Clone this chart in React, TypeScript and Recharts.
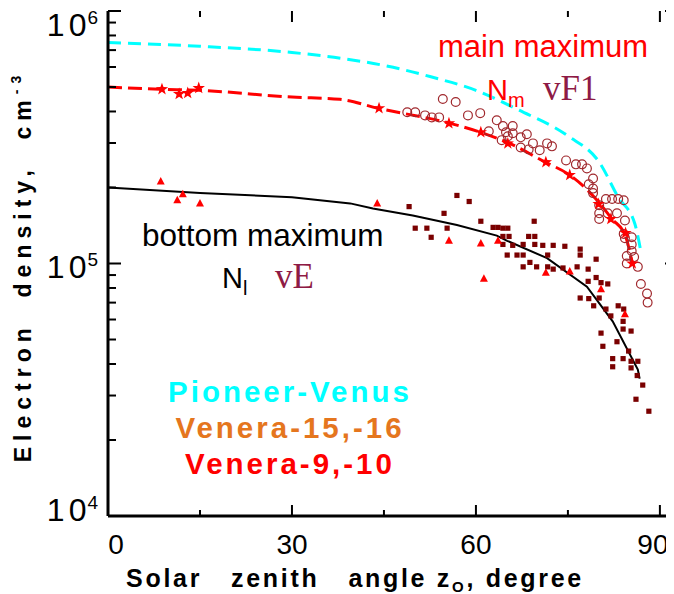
import React from 'react';
import { ComposedChart, Line, Scatter, XAxis, YAxis } from 'recharts';

// ---------- data (solar zenith angle in degrees, electron density in cm^-3) ----------
const xTicks = [0, 15, 30, 45, 60, 75, 90];
const xLabelTicks = [0, 30, 60, 90];
const yTicks = [
  1e4, 2e4, 3e4, 4e4, 5e4, 6e4, 7e4, 8e4, 9e4,
  1e5, 2e5, 3e5, 4e5, 5e5, 6e5, 7e5, 8e5, 9e5, 1e6,
];
const yLabelTicks = [1e4, 1e5, 1e6];
const yLabelExp = ['4', '5', '6'];

const pioneerCurve: [number, number][] = [
  [0, 7.5e5], [15, 7.25e5], [30, 6.85e5], [38, 6.5e5], [47.6, 5.9e5], [52.5, 5.5e5],
  [60, 4.85e5], [67, 4.05e5], [75, 3.2e5], [80.2, 2.5e5], [83.2, 1.83e5], [85.9, 1.44e5],
  [87, 1.08e5],
];

const mainCurve: [number, number][] = [
  [0, 5.0e5], [8.5, 4.9e5], [15, 4.85e5], [30, 4.56e5], [37.8, 4.47e5], [44, 4.12e5],
  [55.8, 3.59e5], [60.7, 3.31e5], [65.5, 2.99e5], [71.3, 2.52e5], [75.3, 2.24e5],
  [80.2, 1.73e5], [82.2, 1.5e5], [84.3, 1.3e5], [85.5, 1.0e5],
];

const bottomCurve: [number, number][] = [
  [0, 2.0e5], [15, 1.9e5], [30, 1.83e5], [39.5, 1.73e5], [43.2, 1.65e5], [49.7, 1.55e5],
  [56.9, 1.42e5], [63.4, 1.29e5], [65.1, 1.23e5], [71.6, 1.05e5], [78.1, 8.1e4],
  [82.3, 5.9e4], [86.4, 3.8e4], [86.7, 3.5e4],
];

const starPoints: [number, number][] = [
  [8.8, 4.9e5], [11.6, 4.69e5], [13, 4.73e5], [14.8, 4.95e5], [44.2, 4.12e5], [55.6, 3.59e5],
  [60.8, 3.31e5], [65.2, 2.99e5], [71.4, 2.52e5], [75.3, 2.24e5], [80.0, 1.72e5],
  [82.0, 1.5e5], [84.4, 1.32e5], [85.5, 1.0e5],
];

const trianglePoints: [number, number][] = [
  [8.6, 2.11e5], [11.3, 1.78e5], [12.2, 1.88e5], [15, 1.73e5], [43.9, 1.73e5], [55.6, 1.23e5],
  [60.8, 1.2e5], [61.3, 8.7e4], [63.6, 1.23e5], [71.4, 9.2e4], [75.3, 9.3e4], [80.4, 7.9e4],
  [84.3, 6.3e4],
];

const circlePoints: [number, number][] = [
  [54.6, 4.48e5], [56.7, 4.36e5], [48.8, 3.97e5], [50.1, 3.97e5], [51.7, 3.86e5], [52.8, 3.79e5],
  [54.0, 3.79e5], [58.7, 3.86e5], [60.7, 3.94e5], [62.1, 3.34e5], [63.4, 3.69e5], [64.4, 3.5e5],
  [66.0, 3.5e5], [64.9, 3.31e5], [64.2, 3.08e5], [65.2, 3.19e5], [66.0, 3.28e5], [67.3, 3.16e5],
  [68.3, 3.25e5], [67.3, 2.88e5], [68.6, 2.83e5], [70.4, 2.81e5], [71.6, 2.99e5], [72.4, 2.91e5],
  [69.3, 2.99e5], [74.7, 2.56e5], [76.3, 2.47e5], [77.3, 2.47e5], [78.1, 2.38e5], [79.1, 2.17e5],
  [78.4, 2.06e5], [79.1, 1.98e5], [79.1, 1.9e5], [81.2, 1.8e5], [82.2, 1.8e5], [83.2, 1.8e5],
  [84.1, 1.78e5], [80.1, 1.7e5], [80.1, 1.58e5], [80.1, 1.5e5], [81.5, 1.58e5], [83.0, 1.58e5],
  [84.3, 1.48e5], [84.1, 1.31e5], [85.4, 1.27e5], [84.3, 1.26e5], [85.4, 1.19e5], [85.4, 1.12e5],
  [84.6, 1.07e5], [85.8, 1.06e5], [84.6, 1.0e5], [86.4, 9.7e4], [86.9, 8.3e4], [87.9, 7.6e4],
  [88.0, 7.0e4],
];

const squarePoints: [number, number][] = [
  [56.9, 1.86e5], [58.9, 1.76e5], [49.1, 1.68e5], [54.8, 1.58e5], [50.1, 1.38e5], [52.0, 1.38e5],
  [55.3, 1.38e5], [52.7, 1.27e5], [60.8, 1.47e5], [62.8, 1.39e5], [63.6, 1.39e5], [64.4, 1.38e5],
  [65.2, 1.38e5], [69.5, 1.47e5], [64.4, 1.28e5], [65.4, 1.28e5], [68.6, 1.28e5], [69.6, 1.28e5],
  [64.4, 1.19e5], [66.0, 1.18e5], [67.7, 1.19e5], [69.6, 1.19e5], [70.9, 1.18e5], [72.6, 1.18e5],
  [74.5, 1.17e5], [65.1, 1.08e5], [66.7, 1.08e5], [67.7, 1.08e5], [71.7, 1.08e5], [77.0, 1.14e5],
  [77.0, 1.08e5], [68.8, 1.01e5], [67.7, 9.7e4], [69.9, 9.7e4], [71.7, 9.7e4], [72.6, 9.5e4],
  [74.2, 9.6e4], [76.5, 9.7e4], [79.6, 1.04e5], [78.3, 9.5e4], [78.3, 8.5e4], [79.6, 8.8e4],
  [80.4, 8.4e4], [81.5, 8.3e4], [77.0, 7.3e4], [78.4, 7.26e4], [80.1, 7.3e4], [79.2, 6.8e4],
  [81.2, 6.6e4], [83.2, 6.8e4], [84.1, 6.6e4], [82.0, 6.2e4], [84.0, 5.9e4], [85.3, 5.4e4],
  [84.0, 5.5e4], [80.4, 5.3e4], [80.7, 4.7e4], [83.0, 4.9e4], [84.9, 4.5e4], [82.3, 4.2e4],
  [84.0, 4.2e4], [82.3, 3.9e4], [85.3, 4.1e4], [86.4, 4.1e4], [85.3, 3.86e4], [86.3, 3.6e4],
  [87.2, 3.3e4], [86.1, 2.9e4], [88.2, 2.6e4],
];

const toRows = (pts: [number, number][]) => pts.map(([deg, n]) => ({ deg, n }));

// ---------- styles ----------
const SANS = 'Liberation Sans, Arial, Helvetica, sans-serif';
const SERIF = 'Liberation Serif, Times New Roman, serif';
const CYAN = '#00FFFF';
const RED = '#FF0000';
const MAROON = '#7A0000';
const CIRCLE = '#A0282D';
const WINE = '#8E1A45';
const ORANGE = '#E5761E';

const W = 666;
const H = 586;
const M_TOP = 3;
const AX_LEFT = 100;
const AX_BOTTOM = 78;
const PLOT_W = W - AX_LEFT;
const PLOT_H = H - M_TOP - AX_BOTTOM;

const BottomTick = (p: any) => {
  const { x, y, payload } = p;
  const v = payload.value;
  const major = xLabelTicks.includes(v);
  const len = major ? 11 : 6;
  const dx = v === 0 ? 8 : v === 90 ? -7 : 0;
  const top = y - PLOT_H;
  return (
    <g>
      <line x1={x} x2={x} y1={y} y2={y - len} stroke="#000" strokeWidth={2} />
      <line x1={x} x2={x} y1={top} y2={top + len} stroke="#000" strokeWidth={2} />
      {major && (
        <text x={x + dx} y={y + 38} textAnchor="middle" fontFamily={SANS} fontSize={28} fill="#000">
          {v}
        </text>
      )}
    </g>
  );
};

const LeftTick = (p: any) => {
  const { x, y, payload } = p;
  const idx = yLabelTicks.indexOf(payload.value);
  const major = idx >= 0;
  const off = idx === 0 ? 5 : idx === 1 ? 14 : 25;
  const right = x + PLOT_W;
  return (
    <g>
      <line x1={x} x2={x + (major ? 13 : 8)} y1={y} y2={y} stroke="#000" strokeWidth={2} />
      <line x1={right} x2={right - (major ? 9 : 3)} y1={y} y2={y} stroke="#000" strokeWidth={2} />
      {major && (
        <text x={x - 10} y={y + off} textAnchor="end" fontFamily={SANS} fontSize={32} fill="#000">
          <tspan>1</tspan>
          <tspan dx={4}>0</tspan>
          <tspan dx={1} dy={-12} fontSize={19}>{yLabelExp[idx]}</tspan>
        </text>
      )}
    </g>
  );
};

const starPath = (cx: number, cy: number, ro: number, ri: number) => {
  const pts: string[] = [];
  for (let i = 0; i < 10; i++) {
    const r = i % 2 === 0 ? ro : ri;
    const a = -Math.PI / 2 + (i * Math.PI) / 5;
    pts.push(`${cx + r * Math.cos(a)},${cy + r * Math.sin(a)}`);
  }
  return `M${pts.join('L')}Z`;
};

const StarShape = (p: any) => <path d={starPath(p.cx, p.cy, 6.5, 2.6)} fill={RED} />;
const TriShape = (p: any) => (
  <path d={`M${p.cx},${p.cy - 4.5}L${p.cx + 4},${p.cy + 3}L${p.cx - 4},${p.cy + 3}Z`} fill={RED} />
);
const CircleShape = (p: any) => (
  <circle cx={p.cx} cy={p.cy} r={4.4} fill="none" stroke={CIRCLE} strokeWidth={1.2} />
);
const SquareShape = (p: any) => (
  <rect x={p.cx - 2.6} y={p.cy - 2.6} width={5.2} height={5.2} fill={MAROON} />
);

export default function App() {
  return (
    <div style={{ position: 'relative', width: W, height: H }}>
      <ComposedChart width={W} height={H} margin={{ top: M_TOP, right: 0, bottom: 0, left: 0 }}>
        <XAxis
          xAxisId="b"
          type="number"
          dataKey="deg"
          domain={[0, 92.3]}
          allowDataOverflow
          ticks={xTicks}
          interval={0}
          height={AX_BOTTOM}
          tickSize={0}
          tickMargin={0}
          tickLine={false}
          axisLine={{ stroke: '#000', strokeWidth: 3 }}
          tick={<BottomTick />}
        />
        <XAxis
          xAxisId="t"
          orientation="top"
          type="number"
          dataKey="deg"
          domain={[0, 92.3]}
          allowDataOverflow
          height={0}
          tickLine={false}
          tick={false}
          axisLine={{ stroke: '#000', strokeWidth: 3 }}
        />
        <YAxis
          yAxisId="l"
          type="number"
          dataKey="n"
          scale="log"
          domain={[1e4, 1e6]}
          allowDataOverflow
          ticks={yTicks}
          interval={0}
          width={AX_LEFT}
          tickSize={0}
          tickMargin={0}
          tickLine={false}
          axisLine={{ stroke: '#000', strokeWidth: 3 }}
          tick={<LeftTick />}
        />
        <Line
          xAxisId="b" yAxisId="l" data={toRows(pioneerCurve)} dataKey="n" type="monotone"
          stroke={CYAN} strokeWidth={3} strokeDasharray="13 7" dot={false} isAnimationActive={false}
        />
        <Line
          xAxisId="b" yAxisId="l" data={toRows(bottomCurve)} dataKey="n" type="linear"
          stroke="#000" strokeWidth={2} dot={false} isAnimationActive={false}
        />
        <Scatter xAxisId="b" yAxisId="l" data={toRows(circlePoints)} dataKey="n" shape={<CircleShape />} isAnimationActive={false} />
        <Scatter xAxisId="b" yAxisId="l" data={toRows(squarePoints)} dataKey="n" shape={<SquareShape />} isAnimationActive={false} />
        <Line
          xAxisId="b" yAxisId="l" data={toRows(mainCurve)} dataKey="n" type="monotone"
          stroke={RED} strokeWidth={3} strokeDasharray="14 6" dot={false} isAnimationActive={false}
        />
        <Scatter xAxisId="b" yAxisId="l" data={toRows(trianglePoints)} dataKey="n" shape={<TriShape />} isAnimationActive={false} />
        <Scatter xAxisId="b" yAxisId="l" data={toRows(starPoints)} dataKey="n" shape={<StarShape />} isAnimationActive={false} />
      </ComposedChart>
      <svg
        width={W}
        height={H}
        style={{ position: 'absolute', left: 0, top: 0, pointerEvents: 'none' }}
      >
        <text x={535} y={49} textAnchor="middle" fontFamily={SANS} fontSize={31} fill={RED}>
          main maximum
        </text>
        <text x={479} y={92} fontFamily={SANS} fontSize={29} fill={RED}>
          N<tspan dy={7} fontSize={20}>m</tspan>
        </text>
        <text x={535} y={92} fontFamily={SERIF} fontSize={35} fill={WINE}>vF1</text>
        <text x={134} y={238} fontFamily={SANS} fontSize={31.5} fill="#000">bottom maximum</text>
        <text x={214} y={280} fontFamily={SANS} fontSize={29} fill="#000">
          N<tspan dy={7} fontSize={20}>l</tspan>
        </text>
        <text x={267} y={280} fontFamily={SERIF} fontSize={35} fill={WINE}>vE</text>

        <text x={282} y={394} textAnchor="middle" fontFamily={SANS} fontWeight="bold" fontSize={29.5} letterSpacing={3} fill={CYAN}>
          Pioneer-Venus
        </text>
        <text x={282} y={430} textAnchor="middle" fontFamily={SANS} fontWeight="bold" fontSize={29.5} letterSpacing={3} fill={ORANGE}>
          Venera-15,-16
        </text>
        <text x={282} y={466} textAnchor="middle" fontFamily={SANS} fontWeight="bold" fontSize={29.5} letterSpacing={3} fill={RED}>
          Venera-9,-10
        </text>

        <text x={347} y={579} textAnchor="middle" fontFamily={SANS} fontWeight="bold" fontSize={25} letterSpacing={2.7} fill="#000" style={{ whiteSpace: 'pre' }}>
          {'Solar   zenith   angle z'}
          <tspan dy={5} fontSize={15}>O</tspan>
          <tspan dy={-5}>{', degree'}</tspan>
        </text>
        <text
          transform="translate(23,258) rotate(-90)"
          x={0}
          y={0}
          textAnchor="middle"
          fontFamily={SANS}
          fontWeight="bold"
          fontSize={23}
          letterSpacing={6}
          fill="#000"
          style={{ whiteSpace: 'pre' }}
        >
          {'Electron  density,  cm'}
          <tspan dy={-10} fontSize={14}>-3</tspan>
        </text>
      </svg>
    </div>
  );
}
